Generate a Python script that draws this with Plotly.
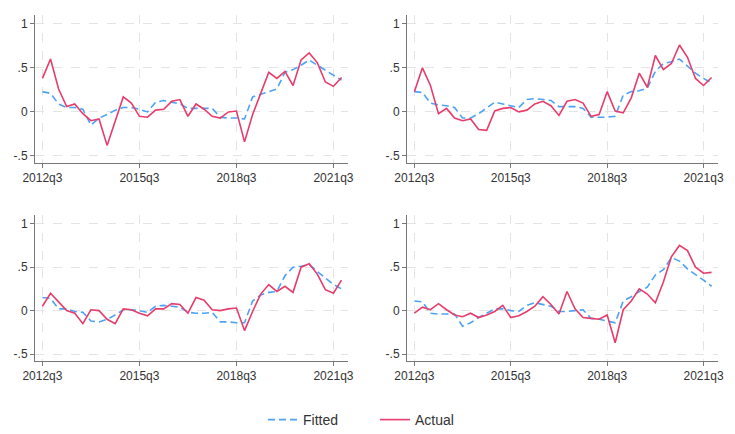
import plotly.graph_objects as go

quarters = [
    "2012q3", "2012q4", "2013q1", "2013q2", "2013q3", "2013q4", "2014q1", "2014q2",
    "2014q3", "2014q4", "2015q1", "2015q2", "2015q3", "2015q4", "2016q1", "2016q2",
    "2016q3", "2016q4", "2017q1", "2017q2", "2017q3", "2017q4", "2018q1", "2018q2",
    "2018q3", "2018q4", "2019q1", "2019q2", "2019q3", "2019q4", "2020q1", "2020q2",
    "2020q3", "2020q4", "2021q1", "2021q2", "2021q3", "2021q4",
]
x_ticks = ["2012q3", "2015q3", "2018q3", "2021q3"]
y_tickvals = [-0.5, 0, 0.5, 1]
y_ticktext = ["-.5", "0", ".5", "1"]

actual_1 = [0.38, 0.60, 0.26, 0.06, 0.09, -0.02, -0.10, -0.08, -0.38, -0.10,
            0.17, 0.10, -0.05, -0.06, 0.02, 0.03, 0.12, 0.14, -0.05, 0.09,
            0.03, -0.05, -0.07, 0.00, 0.01, -0.34, -0.03, 0.21, 0.45, 0.38,
            0.46, 0.30, 0.59, 0.67, 0.56, 0.34, 0.29, 0.39]
fitted_1 = [0.23, 0.21, 0.09, 0.05, 0.05, 0.03, -0.15, -0.07, -0.03, 0.02,
            0.05, 0.05, 0.03, 0.00, 0.11, 0.13, 0.11, 0.09, 0.04, 0.04,
            0.04, 0.04, -0.06, -0.07, -0.07, -0.08, 0.17, 0.20, 0.23, 0.26,
            0.45, 0.48, 0.53, 0.59, 0.53, 0.47, 0.42, 0.36]

actual_2 = [0.23, 0.50, 0.30, -0.02, 0.04, -0.07, -0.10, -0.08, -0.20, -0.21,
            0.01, 0.04, 0.05, 0.00, 0.02, 0.09, 0.12, 0.07, -0.04, 0.12,
            0.14, 0.10, -0.05, -0.03, 0.23, 0.01, -0.01, 0.16, 0.44, 0.28,
            0.64, 0.48, 0.55, 0.76, 0.62, 0.38, 0.30, 0.39]
fitted_2 = [0.23, 0.22, 0.10, 0.08, 0.07, 0.05, -0.07, -0.07, -0.02, 0.05,
            0.11, 0.09, 0.07, 0.05, 0.14, 0.15, 0.14, 0.13, 0.06, 0.06,
            0.06, 0.04, -0.06, -0.06, -0.06, -0.05, 0.19, 0.23, 0.24, 0.27,
            0.46, 0.55, 0.57, 0.60, 0.52, 0.44, 0.38, 0.33]

actual_3 = [0.05, 0.20, 0.10, 0.00, -0.03, -0.15, 0.01, 0.00, -0.10, -0.15,
            0.02, 0.01, -0.03, -0.06, 0.02, 0.02, 0.08, 0.07, -0.03, 0.15,
            0.12, 0.01, 0.00, 0.02, 0.03, -0.23, -0.01, 0.19, 0.30, 0.22,
            0.28, 0.21, 0.50, 0.54, 0.42, 0.24, 0.20, 0.35]
fitted_3 = [0.15, 0.14, 0.02, 0.02, -0.01, -0.02, -0.12, -0.13, -0.10, -0.05,
            0.01, 0.01, 0.00, -0.02, 0.05, 0.06, 0.05, 0.04, -0.02, -0.03,
            -0.03, -0.02, -0.13, -0.13, -0.14, -0.14, 0.11, 0.18, 0.21, 0.22,
            0.40, 0.50, 0.51, 0.53, 0.45, 0.37, 0.30, 0.25]

actual_4 = [-0.03, 0.04, 0.01, 0.08, 0.01, -0.05, -0.07, -0.03, -0.08, -0.05,
            -0.01, 0.06, -0.08, -0.06, -0.01, 0.05, 0.16, 0.07, -0.04, 0.22,
            0.02, -0.08, -0.09, -0.10, -0.05, -0.37, 0.01, 0.11, 0.25, 0.19,
            0.09, 0.33, 0.62, 0.75, 0.69, 0.50, 0.43, 0.44]
fitted_4 = [0.11, 0.10, -0.03, -0.04, -0.04, -0.04, -0.18, -0.14, -0.08, -0.03,
            0.02, 0.02, 0.00, -0.01, 0.06, 0.09, 0.07, 0.05, -0.01, -0.01,
            0.00, 0.01, -0.09, -0.10, -0.12, -0.14, 0.11, 0.16, 0.22, 0.27,
            0.41, 0.47, 0.61, 0.57, 0.48, 0.42, 0.35, 0.28]

panels = [(fitted_1, actual_1), (fitted_2, actual_2), (fitted_3, actual_3), (fitted_4, actual_4)]

W, H = 735, 434
# pixel geometry of each panel: (left, right, top, bottom)
boxes = [(35, 348, 15, 163), (407, 718, 15, 163), (35, 348, 215, 361), (407, 718, 215, 361)]

BLUE = "#4ca3f5"
RED = "#e63d6c"
FONT = "Liberation Sans, Arial, sans-serif"

fig = go.Figure()
layout = dict(
    width=W, height=H, margin=dict(l=0, r=0, t=0, b=0, autoexpand=False),
    paper_bgcolor="white", plot_bgcolor="white",
    font=dict(family=FONT, size=12, color="#333333"),
    showlegend=True,
    legend=dict(orientation="h", x=263 / W, y=(H - 420) / H, xanchor="left", yanchor="middle",
                font=dict(size=14, color="#333333"), bgcolor="rgba(0,0,0,0)"),
    legend2=dict(orientation="h", x=375 / W, y=(H - 420) / H, xanchor="left", yanchor="middle",
                 font=dict(size=14, color="#333333"), bgcolor="rgba(0,0,0,0)"),
)

for k, ((fit, act), (l, r, t, b)) in enumerate(zip(panels, boxes)):
    sfx = "" if k == 0 else str(k + 1)
    fig.add_trace(go.Scatter(x=quarters, y=fit, mode="lines", name="Fitted",
                             line=dict(color=BLUE, width=1.6, dash="7px,4px"),
                             xaxis="x" + sfx, yaxis="y" + sfx, showlegend=(k == 0),
                             legend="legend"))
    fig.add_trace(go.Scatter(x=quarters, y=act, mode="lines", name="Actual",
                             line=dict(color=RED, width=1.6),
                             xaxis="x" + sfx, yaxis="y" + sfx, showlegend=(k == 0),
                             legend="legend2"))
    layout["xaxis" + sfx] = dict(
        domain=[l / W, r / W], anchor="y" + sfx, type="category", automargin=False,
        range=[-0.92, 37.8], tickmode="array", tickvals=x_ticks, ticktext=x_ticks,
        showline=True, linecolor="#777777", linewidth=1, ticks="outside", ticklen=4,
        tickcolor="#777777", showgrid=True, gridcolor="#e4e4e4", griddash="dash",
        gridwidth=1, zeroline=False, tickfont=dict(size=12, color="#333333"),
    )
    layout["yaxis" + sfx] = dict(
        domain=[1 - b / H, 1 - t / H], anchor="x" + sfx, automargin=False,
        range=[-0.58, 1.1], tickmode="array", tickvals=y_tickvals, ticktext=y_ticktext,
        showline=True, linecolor="#777777", linewidth=1, ticks="outside", ticklen=4,
        tickcolor="#777777", showgrid=True, gridcolor="#e4e4e4", griddash="dash",
        gridwidth=1, zeroline=False, tickfont=dict(size=12, color="#333333"),
    )

fig.update_layout(**layout)
fig.write_html("out.html", config={"displayModeBar": False},
               post_script="document.body.style.margin='0px';")
